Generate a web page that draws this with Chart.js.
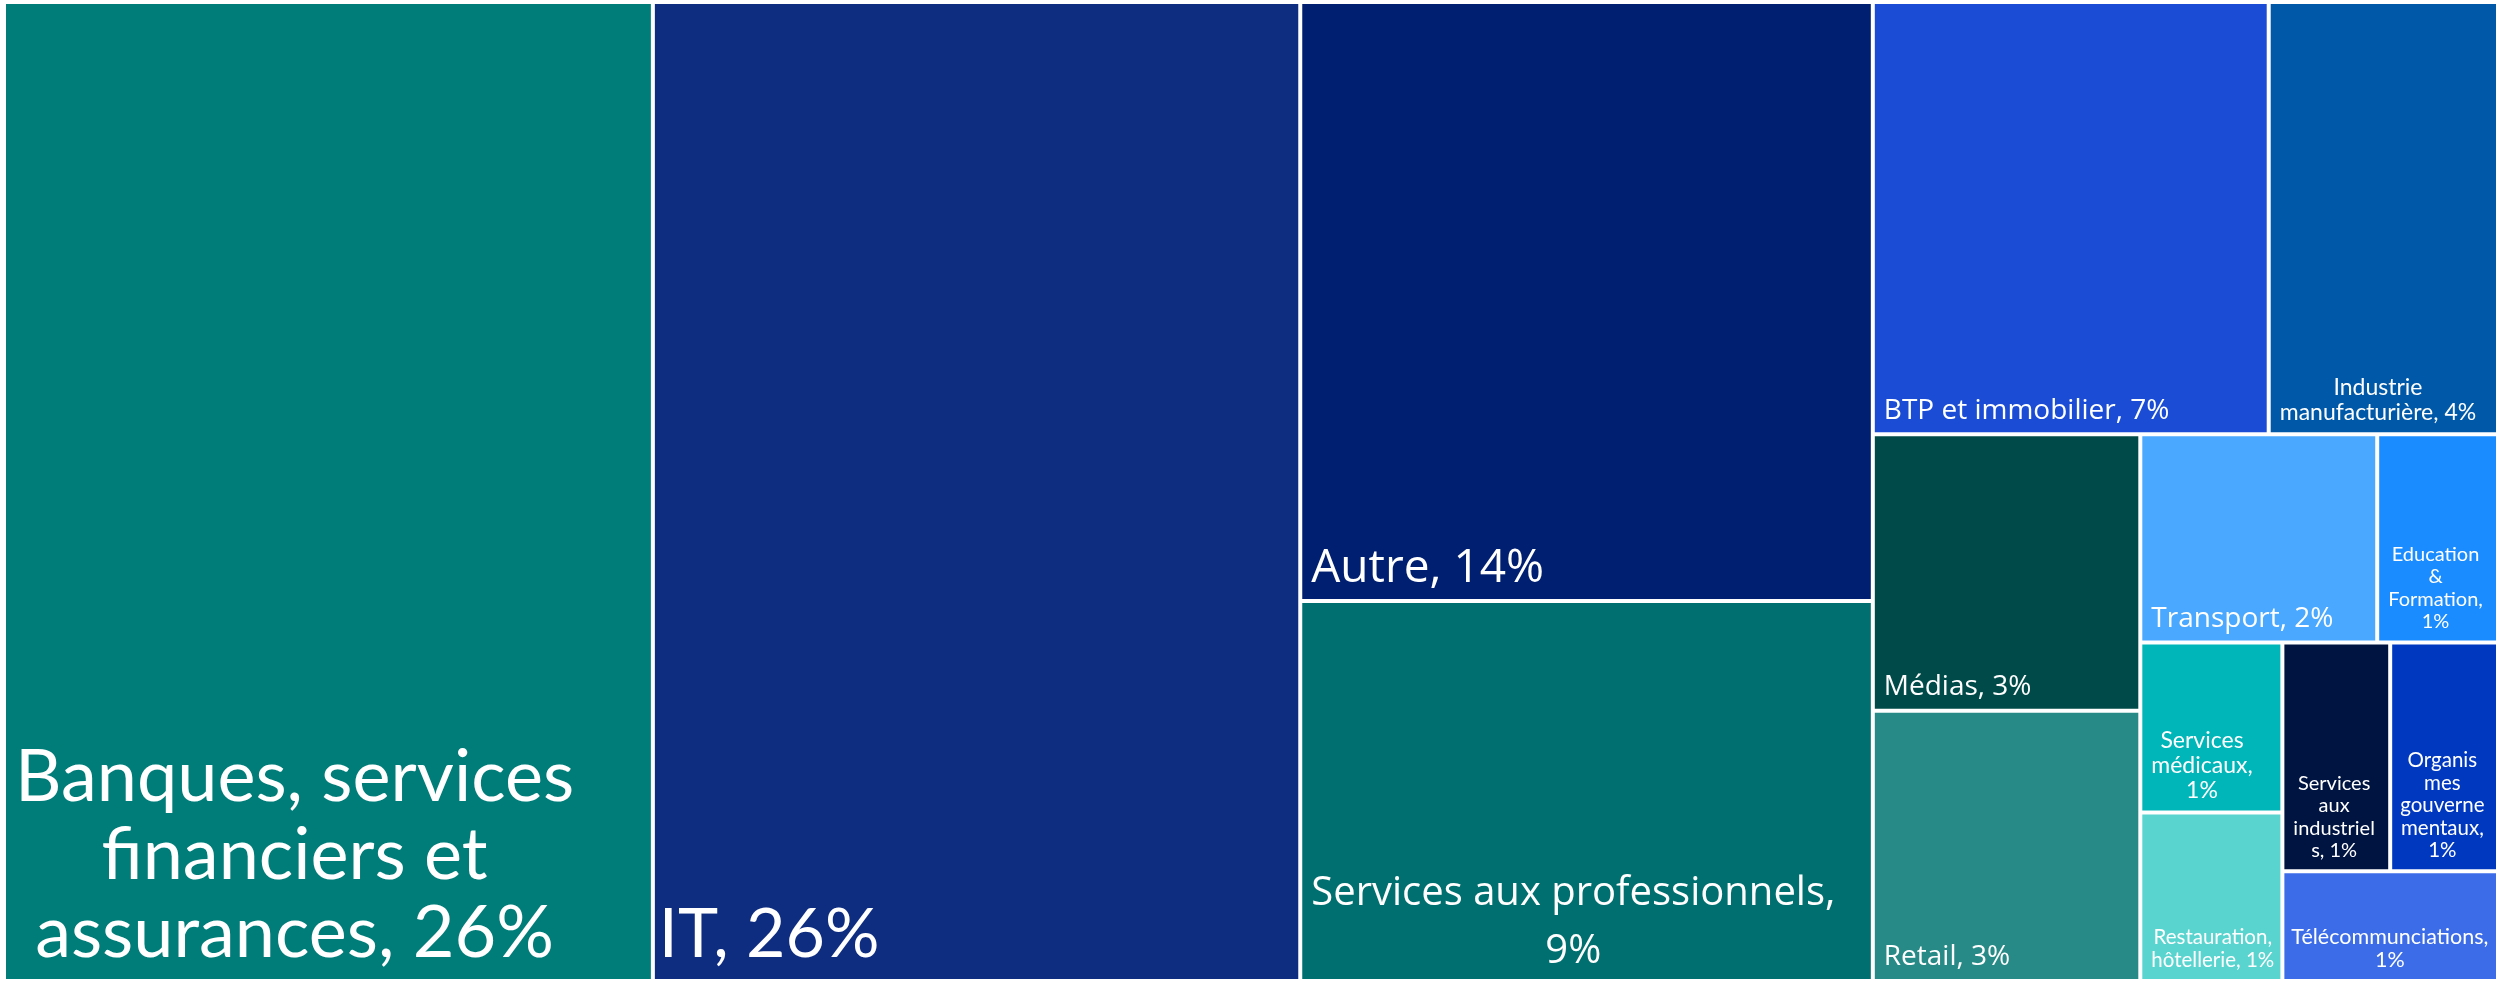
<!DOCTYPE html>
<html>
<head>
<meta charset="utf-8">
<script src="https://cdn.jsdelivr.net/npm/chart.js@4.4.1/dist/chart.umd.min.js"></script>
<style>
  html, body { margin: 0; padding: 0; background: #fff; }
  #wrap { width: 2498px; height: 981px; position: relative; overflow: hidden; }
</style>
</head>
<body>
<div id="wrap"><canvas id="treemap"></canvas></div>
<script>
// Sectors, in the order the treemap lays them out
const categories = [
  'Banques, services financiers et assurances', 'IT', 'Autre', 'Services aux professionnels',
  'BTP et immobilier', 'Industrie manufacturière', 'Médias', 'Retail', 'Transport',
  'Education & Formation', 'Services médicaux', 'Restauration, hôtellerie',
  'Services aux industriels', 'Organismes gouvernementaux', 'Télécommunciations'
];
// share of the total, in %
const shares = [26.02, 25.96, 14.05, 8.91, 7.01, 4.06, 3.03, 2.96, 2.02, 1.03, 0.99, 0.98, 1.01, 1.01, 0.97];

// label text as it is broken in the cells
const labelLines = [
  ['Banques, services', 'financiers et', 'assurances, 26%'],
  ['IT, 26%'],
  ['Autre, 14%'],
  ['Services aux professionnels,', '9%'],
  ['BTP et immobilier, 7%'],
  ['Industrie', 'manufacturière, 4%'],
  ['Médias, 3%'],
  ['Retail, 3%'],
  ['Transport, 2%'],
  ['Education', '&', 'Formation,', '1%'],
  ['Services', 'médicaux,', '1%'],
  ['Restauration,', 'hôtellerie, 1%'],
  ['Services', 'aux', 'industriel', 's, 1%'],
  ['Organis', 'mes', 'gouverne', 'mentaux,', '1%'],
  ['Télécommunciations,', '1%']
];

// styling
const colors = ['#017d79', '#0f2d80', '#001f70', '#006f6f', '#1a4cd6', '#0058a8', '#004b49', '#278a86',
  '#4aa8ff', '#1a8cff', '#00b6b9', '#59d4cf', '#001442', '#0038c0', '#3d6ce8'];
const labelFamily = ['Lato', 'Lato', 'Open Sans', 'Open Sans', 'Open Sans', 'Lato', 'Open Sans', 'Open Sans',
  'Open Sans', 'Lato', 'Lato', 'Lato', 'Lato', 'Lato', 'Lato'];
const labelSize = [72, 68, 46, 40, 28, 23, 28, 28, 28, 20, 23, 20.5, 20, 20.5, 21.5];
const labelLineHeight = [78, 78, 56, 58, 34, 25, 34, 34, 34, 22.5, 25, 22.5, 22.5, 22.5, 22.5];
const labelPad = [11, 6, 11, 11, 11, 11, 11, 11, 11, 11, 11, 11, 11, 10, 9];
const SQUARIFY_RATIO = 1.2;

// squarified layout of values into a pw x ph rectangle
function squarify(values, pw, ph, ratio) {
  const cells = [];
  const n = values.length;
  let x0 = 0, y0 = 0, x1 = pw, y1 = ph;
  let value = values.reduce((a, b) => a + b, 0);
  let i0 = 0;
  while (i0 < n) {
    const dx = x1 - x0, dy = y1 - y0;
    let i1 = i0;
    let sum = values[i1++];
    let minV = sum, maxV = sum;
    const alpha = Math.max(dy / dx, dx / dy) / (value * ratio);
    let beta = sum * sum * alpha;
    let minRatio = Math.max(maxV / beta, beta / minV);
    for (; i1 < n; ++i1) {
      const v = values[i1];
      sum += v;
      if (v < minV) minV = v;
      if (v > maxV) maxV = v;
      beta = sum * sum * alpha;
      const newRatio = Math.max(maxV / beta, beta / minV);
      if (newRatio > minRatio) { sum -= v; break; }
      minRatio = newRatio;
    }
    if (dx < dy) {
      // row across the top
      const ny = i1 < n ? y0 + dy * sum / value : y1;
      let x = x0;
      for (let i = i0; i < i1; i++) {
        const w = dx * values[i] / sum;
        cells[i] = { x0: x, x1: x + w, y0: y0, y1: ny };
        x += w;
      }
      y0 = ny;
    } else {
      // column on the left
      const nx = i1 < n ? x0 + dx * sum / value : x1;
      let y = y0;
      for (let i = i0; i < i1; i++) {
        const h = dy * values[i] / sum;
        cells[i] = { x0: x0, x1: nx, y0: y, y1: y + h };
        y += h;
      }
      x0 = nx;
    }
    value -= sum;
    i0 = i1;
  }
  return cells;
}

class TreemapController extends Chart.DatasetController {
  update(mode) {
    const meta = this._cachedMeta;
    this.updateElements(meta.data, 0, meta.data.length, mode);
  }

  updateElements(rects, start, count, mode) {
    const meta = this._cachedMeta;
    const xs = meta.xScale, ys = meta.yScale;
    const values = this.getDataset().data;
    const pw = Math.abs(xs.getPixelForValue(100) - xs.getPixelForValue(0)) || 1;
    const ph = Math.abs(ys.getPixelForValue(100) - ys.getPixelForValue(0)) || 1;
    const cells = squarify(values, pw, ph, SQUARIFY_RATIO);
    for (let i = start; i < start + count; i++) {
      const c = cells[i];
      const left = xs.getPixelForValue(c.x0 / pw * 100);
      const right = xs.getPixelForValue(c.x1 / pw * 100);
      const top = ys.getPixelForValue(c.y0 / ph * 100);
      const bottom = ys.getPixelForValue(c.y1 / ph * 100);
      const props = {
        x: (left + right) / 2,
        y: top,
        base: bottom,
        width: right - left,
        height: bottom - top,
        horizontal: false,
        borderSkipped: {},
        inflateAmount: 0,
        options: this.resolveDataElementOptions(i, mode)
      };
      this.updateElement(rects[i], i, props, mode);
    }
  }

  draw() {
    super.draw();
    const ctx = this.chart.ctx;
    const ds = this.getDataset();
    ctx.save();
    ctx.fillStyle = '#ffffff';
    ctx.textAlign = 'center';
    ctx.textBaseline = 'alphabetic';
    this._cachedMeta.data.forEach((el, i) => {
      const lines = ds.labelLines[i];
      const fs = ds.labelSize[i];
      ctx.font = fs + 'px "' + ds.labelFamily[i] + '"';
      const blockW = Math.max(...lines.map(l => ctx.measureText(l).width));
      const cx = el.x - el.width / 2 + labelPad[i] + blockW / 2;
      let y = el.base - (10 + 0.2 * fs);
      for (let k = lines.length - 1; k >= 0; k--) {
        ctx.fillText(lines[k], cx, y);
        y -= ds.labelLineHeight[i];
      }
    });
    ctx.restore();
  }
}
TreemapController.id = 'treemap';
TreemapController.defaults = { datasetElementType: false, dataElementType: 'bar' };
Chart.register(TreemapController);

new Chart(document.getElementById('treemap'), {
  type: 'treemap',
  data: {
    datasets: [{
      label: 'Secteurs',
      data: shares,
      categories: categories,
      labelLines: labelLines,
      labelFamily: labelFamily,
      labelSize: labelSize,
      labelLineHeight: labelLineHeight,
      backgroundColor: colors,
      borderColor: '#ffffff',
      borderWidth: 2
    }]
  },
  options: {
    responsive: true,
    maintainAspectRatio: false,
    animation: false,
    events: [],
    layout: { padding: { left: 4, top: 2, right: 0, bottom: -2 } },
    scales: {
      x: { type: 'linear', min: 0, max: 100, display: false },
      y: { type: 'linear', min: 0, max: 100, reverse: true, display: false }
    },
    plugins: {
      legend: { display: false },
      tooltip: { enabled: false }
    }
  }
});
</script>
</body>
</html>
